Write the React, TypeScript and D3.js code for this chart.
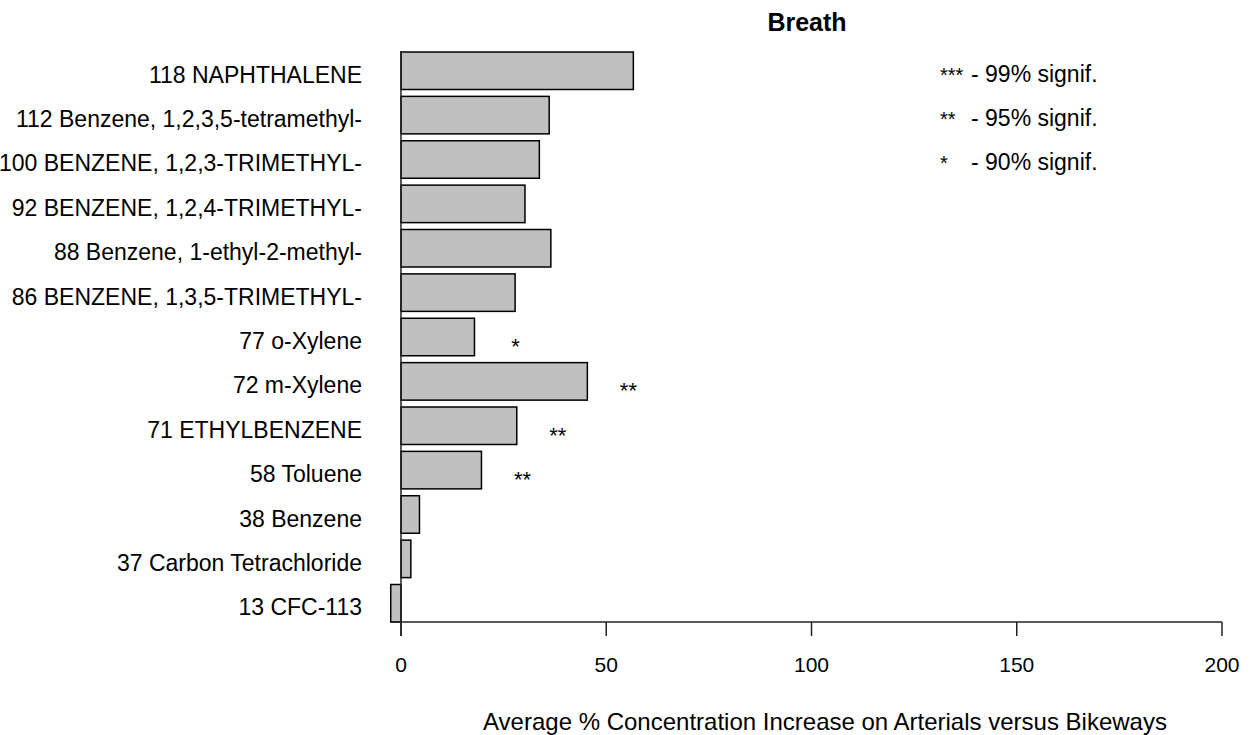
import React from 'react';
import { scaleBand, scaleLinear } from 'd3';

const categories = [
  '118 NAPHTHALENE',
  '112 Benzene, 1,2,3,5-tetramethyl-',
  '100 BENZENE, 1,2,3-TRIMETHYL-',
  '92 BENZENE, 1,2,4-TRIMETHYL-',
  '88 Benzene, 1-ethyl-2-methyl-',
  '86 BENZENE, 1,3,5-TRIMETHYL-',
  '77 o-Xylene',
  '72 m-Xylene',
  '71 ETHYLBENZENE',
  '58 Toluene',
  '38 Benzene',
  '37 Carbon Tetrachloride',
  '13 CFC-113',
];
const values = [56.6, 36.1, 33.7, 30.2, 36.5, 27.8, 17.9, 45.4, 28.2, 19.6, 4.5, 2.4, -2.5];
const stars = ['', '', '', '', '', '', '*', '**', '**', '**', '', '', ''];
const xTicks = [0, 50, 100, 150, 200];
const legendStars = ['***', '**', '*'];
const legendText = ['- 99% signif.', '- 95% signif.', '- 90% signif.'];

const W = 1252;
const H = 735;
const left = 401;
const right = 1222;
const top = 52;
const bottom = 622;
const font = '"Liberation Sans", Arial, sans-serif';

const App: React.FC = () => {
  const x = scaleLinear().domain([0, 200]).range([left, right]);
  const y = scaleBand().domain(categories).range([top, bottom]).paddingInner(0.155).paddingOuter(0);
  const bw = y.bandwidth();
  const minV = Math.min(0, ...values);

  return (
    <svg width={W} height={H} style={{ position: 'absolute', left: 0, top: 0, background: '#fff' }}
      fontFamily={font}>
      <text x={807} y={31} textAnchor="middle" fontSize={25} fontWeight="bold">Breath</text>

      {categories.map((c, i) => {
        const v = values[i];
        const yy = y(c)!;
        return (
          <g key={c}>
            <rect x={x(Math.min(0, v))} y={yy} width={Math.abs(x(v) - x(0))} height={bw}
              fill="#c0c0c0" stroke="#000" strokeWidth={1.5} />
            <text x={362} y={yy + bw / 2 + 12} textAnchor="end" fontSize={23}>{c}</text>
            {stars[i] && (
              <text x={x(v + 10)} y={yy + bw / 2 + 17} textAnchor="middle" fontSize={22}>{stars[i]}</text>
            )}
          </g>
        );
      })}

      {/* axes */}
      <line x1={x(0)} x2={x(0)} y1={top - 1} y2={bottom + 14} stroke="#222" strokeWidth={1.5} />
      <line x1={x(minV)} x2={x(200)} y1={bottom} y2={bottom} stroke="#222" strokeWidth={1.5} />
      {xTicks.map(t => (
        <g key={t}>
          <line x1={x(t)} x2={x(t)} y1={bottom} y2={bottom + 14} stroke="#222" strokeWidth={1.5} />
          <text x={x(t)} y={672} textAnchor="middle" fontSize={21}>{t}</text>
        </g>
      ))}
      <text x={825} y={730} textAnchor="middle" fontSize={24}>
        Average % Concentration Increase on Arterials versus Bikeways
      </text>

      {legendStars.map((s, i) => (
        <g key={s}>
          <text x={940} y={82 + i * 44} fontSize={20}>{s}</text>
          <text x={971} y={82 + i * 44} fontSize={23}>{legendText[i]}</text>
        </g>
      ))}
    </svg>
  );
};

export default App;
